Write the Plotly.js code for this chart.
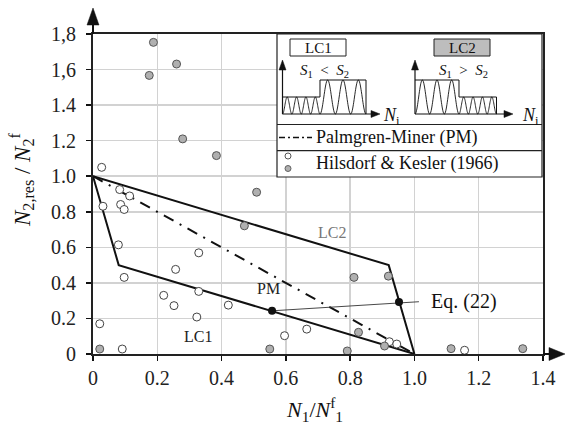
<!DOCTYPE html>
<html><head><meta charset="utf-8">
<script src="https://cdn.plot.ly/plotly-3.0.1.min.js"></script>
<style>html,body{margin:0;padding:0;background:#fff}#c{width:566px;height:428px}</style>
</head><body><div id="c"></div>
<script>
// ---- data ----
const openX = [0.027, 0.083, 0.114, 0.031, 0.086, 0.097, 0.079, 0.097, 0.329, 0.257, 0.220, 0.252, 0.329, 0.323, 0.421, 0.021, 0.091, 0.596, 0.665, 0.922, 0.945, 1.156];
const openY = [1.050, 0.925, 0.889, 0.831, 0.841, 0.813, 0.614, 0.431, 0.569, 0.476, 0.330, 0.272, 0.352, 0.208, 0.275, 0.170, 0.028, 0.103, 0.140, 0.069, 0.056, 0.021];
const grayX = [0.188, 0.175, 0.260, 0.279, 0.384, 0.509, 0.471, 0.812, 0.919, 0.826, 0.907, 0.550, 0.791, 0.021, 1.114, 1.337];
const grayY = [1.753, 1.567, 1.631, 1.210, 1.116, 0.910, 0.721, 0.431, 0.438, 0.122, 0.045, 0.028, 0.017, 0.028, 0.030, 0.030];
const lc1X = [0, 0.08, 1.0];
const lc1Y = [1, 0.5, 0];
const lc2X = [0, 0.92, 1.0];
const lc2Y = [1, 0.5, 0];
const pmX = [0, 1];
const pmY = [1, 0];
const eqLineX = [0.557, 1.014];
const eqLineY = [0.243, 0.294];
const eqDotX = [0.557, 0.952];
const eqDotY = [0.243, 0.292];
const xTickVals = [0, 0.2, 0.4, 0.6, 0.8, 1.0, 1.2, 1.4];
const xTickText = ["0", "0.2", "0.4", "0.6", "0.8", "1.0", "1.2", "1.4"];
const yTickVals = [0, 0.2, 0.4, 0.6, 0.8, 1.0, 1.2, 1.4, 1.6, 1.8];
const yTickText = ["0", "0.2", "0.4", "0.6", "0.8", "1.0", "1.2", "1.4", "1,6", "1,8"];

// ---- layout helpers (pixel -> paper) ----
const FONT = '"Liberation Serif", "Times New Roman", Times, serif';
const L = 93, T = 34, PW = 450, PH = 320;
const X = px => (px - L) / PW;
const Y = py => (T + PH - py) / PH;
const shapes = [];
const ann = [];
function pline(x0, y0, x1, y1, w, col, dash, layer) {
  shapes.push({type: 'line', xref: 'paper', yref: 'paper', x0: X(x0), y0: Y(y0), x1: X(x1), y1: Y(y1),
    line: {color: col || '#111', width: w || 1, dash: dash || 'solid'}, layer: layer || 'above'});
}
function ppath(pts, opts) {
  const d = pts.map((p, i) => (i ? 'L' : 'M') + X(p[0]).toFixed(5) + ',' + Y(p[1]).toFixed(5)).join(' ') + (opts.close ? ' Z' : '');
  shapes.push(Object.assign({type: 'path', xref: 'paper', yref: 'paper', path: d, layer: 'above'}, opts.s));
}
function prect(x0, y0, x1, y1, fill, lw) {
  shapes.push({type: 'rect', xref: 'paper', yref: 'paper', x0: X(x0), y0: Y(y1), x1: X(x1), y1: Y(y0),
    fillcolor: fill, line: {color: '#222', width: lw}, layer: 'above'});
}
function ptext(px, py, txt, size, xa, col) {
  ann.push({xref: 'paper', yref: 'paper', x: X(px), y: Y(py), text: txt, showarrow: false,
    xanchor: xa || 'center', yanchor: 'middle', font: {family: FONT, size: size, color: col || '#111'}});
}
function wave(x0, x1, yTop, yBot, n) {
  const pts = [];
  const N = 40 * n;
  for (let i = 0; i <= N; i++) {
    const t = i / N;
    pts.push([x0 + (x1 - x0) * t, yBot - (yBot - yTop) * (1 - Math.cos(2 * Math.PI * n * t)) / 2]);
  }
  return pts;
}
function upArrow(x, yTip, yBase, hw) { ppath([[x, yTip], [x - hw, yBase], [x + hw, yBase]], {close: true, s: {fillcolor: '#111', line: {color: '#111', width: 0.5}}}); }
function rightArrow(xTip, xBase, y, hh) { ppath([[xTip, y], [xBase, y - hh], [xBase, y + hh]], {close: true, s: {fillcolor: '#111', line: {color: '#111', width: 0.5}}}); }

// main axis arrows
pline(543, 354, 551, 354, 2, '#111');
rightArrow(565, 549, 354, 6.5);
pline(93, 34, 93, 24, 2, '#111');
upArrow(93, 8, 25, 6);

// legend box
prect(277, 34, 542, 177, '#fff', 1.2);
pline(277, 124.5, 542, 124.5, 1.2, '#222');
pline(277, 150.7, 542, 150.7, 1.2, '#222');

// LC1 icon
prect(290, 39, 346, 56, '#fff', 1);
ptext(318, 47.5, 'LC1', 15);
ptext(324, 71, '<i>S</i><sub>1</sub>  <  <i>S</i><sub>2</sub>', 15);
pline(282.5, 114, 282.5, 68, 1.2, '#111');
upArrow(282.5, 60, 70, 3.5);
pline(282.5, 114, 372, 114, 1.2, '#111');
rightArrow(380, 371, 114, 3.5);
ptext(381, 116, '<i>N</i><sub>i</sub>', 18, 'left');
ppath([[282.5, 97], [320, 97], [320, 80], [366, 80], [366, 114]], {s: {line: {color: '#111', width: 1}}});
ppath(wave(282.5, 320, 97, 114, 4), {s: {line: {color: '#111', width: 0.9}}});
ppath(wave(320, 366, 80, 114, 3), {s: {line: {color: '#111', width: 0.9}}});

// LC2 icon
prect(434, 39, 490, 56, '#bdbdbd', 1);
ptext(462, 47.5, 'LC2', 15);
ptext(463, 71, '<i>S</i><sub>1</sub>  >  <i>S</i><sub>2</sub>', 15);
pline(415, 114, 415, 68, 1.2, '#111');
upArrow(415, 60, 70, 3.5);
pline(415, 114, 505, 114, 1.2, '#111');
rightArrow(513, 504, 114, 3.5);
ptext(520, 116, '<i>N</i><sub>i</sub>', 18, 'left');
ppath([[415, 80], [459, 80], [459, 97], [496.5, 97], [496.5, 114]], {s: {line: {color: '#111', width: 1}}});
ppath(wave(415, 459, 80, 114, 3), {s: {line: {color: '#111', width: 0.9}}});
ppath(wave(459, 496.5, 97, 114, 4), {s: {line: {color: '#111', width: 0.9}}});

// legend rows
pline(279, 137.5, 312, 137.5, 1.5, '#111', '6px,3px,2px,3px');
ptext(314, 137.5, 'Palmgren-Miner (PM)', 18, 'left');
shapes.push({type: 'circle', xref: 'paper', yref: 'paper', x0: X(285), x1: X(291), y0: Y(159), y1: Y(153), fillcolor: '#fff', line: {color: '#444', width: 0.9}, layer: 'above'});
shapes.push({type: 'circle', xref: 'paper', yref: 'paper', x0: X(285), x1: X(291), y0: Y(171.5), y1: Y(165.5), fillcolor: '#b0b0b0', line: {color: '#555', width: 0.9}, layer: 'above'});
ptext(314, 163.5, 'Hilsdorf &amp; Kesler (1966)', 18, 'left');

// in-plot labels (data coords)
const dann = [
  {x: 0.742, y: 0.681, text: 'LC2', font: {family: FONT, size: 16, color: '#777'}},
  {x: 0.545, y: 0.367, text: 'PM', font: {family: FONT, size: 16, color: '#222'}},
  {x: 0.327, y: 0.100, text: 'LC1', font: {family: FONT, size: 16, color: '#222'}},
  {x: 1.045, y: 0.294, text: 'Eq. (22)', xanchor: 'left', font: {family: FONT, size: 20, color: '#111'}}
].map(a => Object.assign({xref: 'x', yref: 'y', showarrow: false, xanchor: 'center', yanchor: 'middle'}, a));

// axis titles
ann.push({xref: 'paper', yref: 'paper', x: X(21), y: Y(180), textangle: -90, showarrow: false, xanchor: 'center', yanchor: 'middle',
  text: '<i>N</i><sub>2,res</sub> / <i>N</i><sub>2</sub><sup>f</sup>', font: {family: FONT, size: 23, color: '#111'}});
ann.push({xref: 'paper', yref: 'paper', x: X(314), y: Y(409), showarrow: false, xanchor: 'center', yanchor: 'middle',
  text: '<i>N</i><sub>1</sub>/<i>N</i><sup>f</sup><sub>1</sub>', font: {family: FONT, size: 22, color: '#111'}});

const traces = [
  {x: lc1X, y: lc1Y, mode: 'lines', line: {color: '#111', width: 2}, cliponaxis: false},
  {x: lc2X, y: lc2Y, mode: 'lines', line: {color: '#111', width: 2}, cliponaxis: false},
  {x: pmX, y: pmY, mode: 'lines', line: {color: '#111', width: 2, dash: '11px,7px,2px,7px'}},
  {x: eqLineX, y: eqLineY, mode: 'lines', line: {color: '#333', width: 0.9}},
  {x: openX, y: openY, mode: 'markers', cliponaxis: false, marker: {size: 8, color: '#fff', line: {color: '#444', width: 1}}},
  {x: grayX, y: grayY, mode: 'markers', cliponaxis: false, marker: {size: 8, color: '#b0b0b0', line: {color: '#555', width: 1}}},
  {x: eqDotX, y: eqDotY, mode: 'markers', cliponaxis: false, marker: {size: 8, color: '#111'}}
];

const axisCommon = {showline: true, linecolor: '#222', linewidth: 2, mirror: true, ticks: 'outside', ticklen: 5, tickwidth: 1.5,
  tickcolor: '#111', gridcolor: '#d2d2d2', gridwidth: 1.5, zeroline: false, tickmode: 'array', showgrid: true,
  tickfont: {family: FONT, size: 20, color: '#222'}};

const layout = {
  width: 566, height: 428, margin: {l: L, r: 566 - L - PW, t: T, b: 428 - T - PH},
  paper_bgcolor: '#fff', plot_bgcolor: '#fff', showlegend: false,
  font: {family: FONT, color: '#111'},
  xaxis: Object.assign({}, axisCommon, {range: [0, 1.4], tickvals: xTickVals, ticktext: xTickText}),
  yaxis: Object.assign({}, axisCommon, {range: [0, 1.8], tickvals: yTickVals, ticktext: yTickText, ticklabelstandoff: 6}),
  shapes: shapes,
  annotations: dann.concat(ann)
};
Plotly.newPlot('c', traces, layout, {displayModeBar: false, staticPlot: true});
</script></body></html>
